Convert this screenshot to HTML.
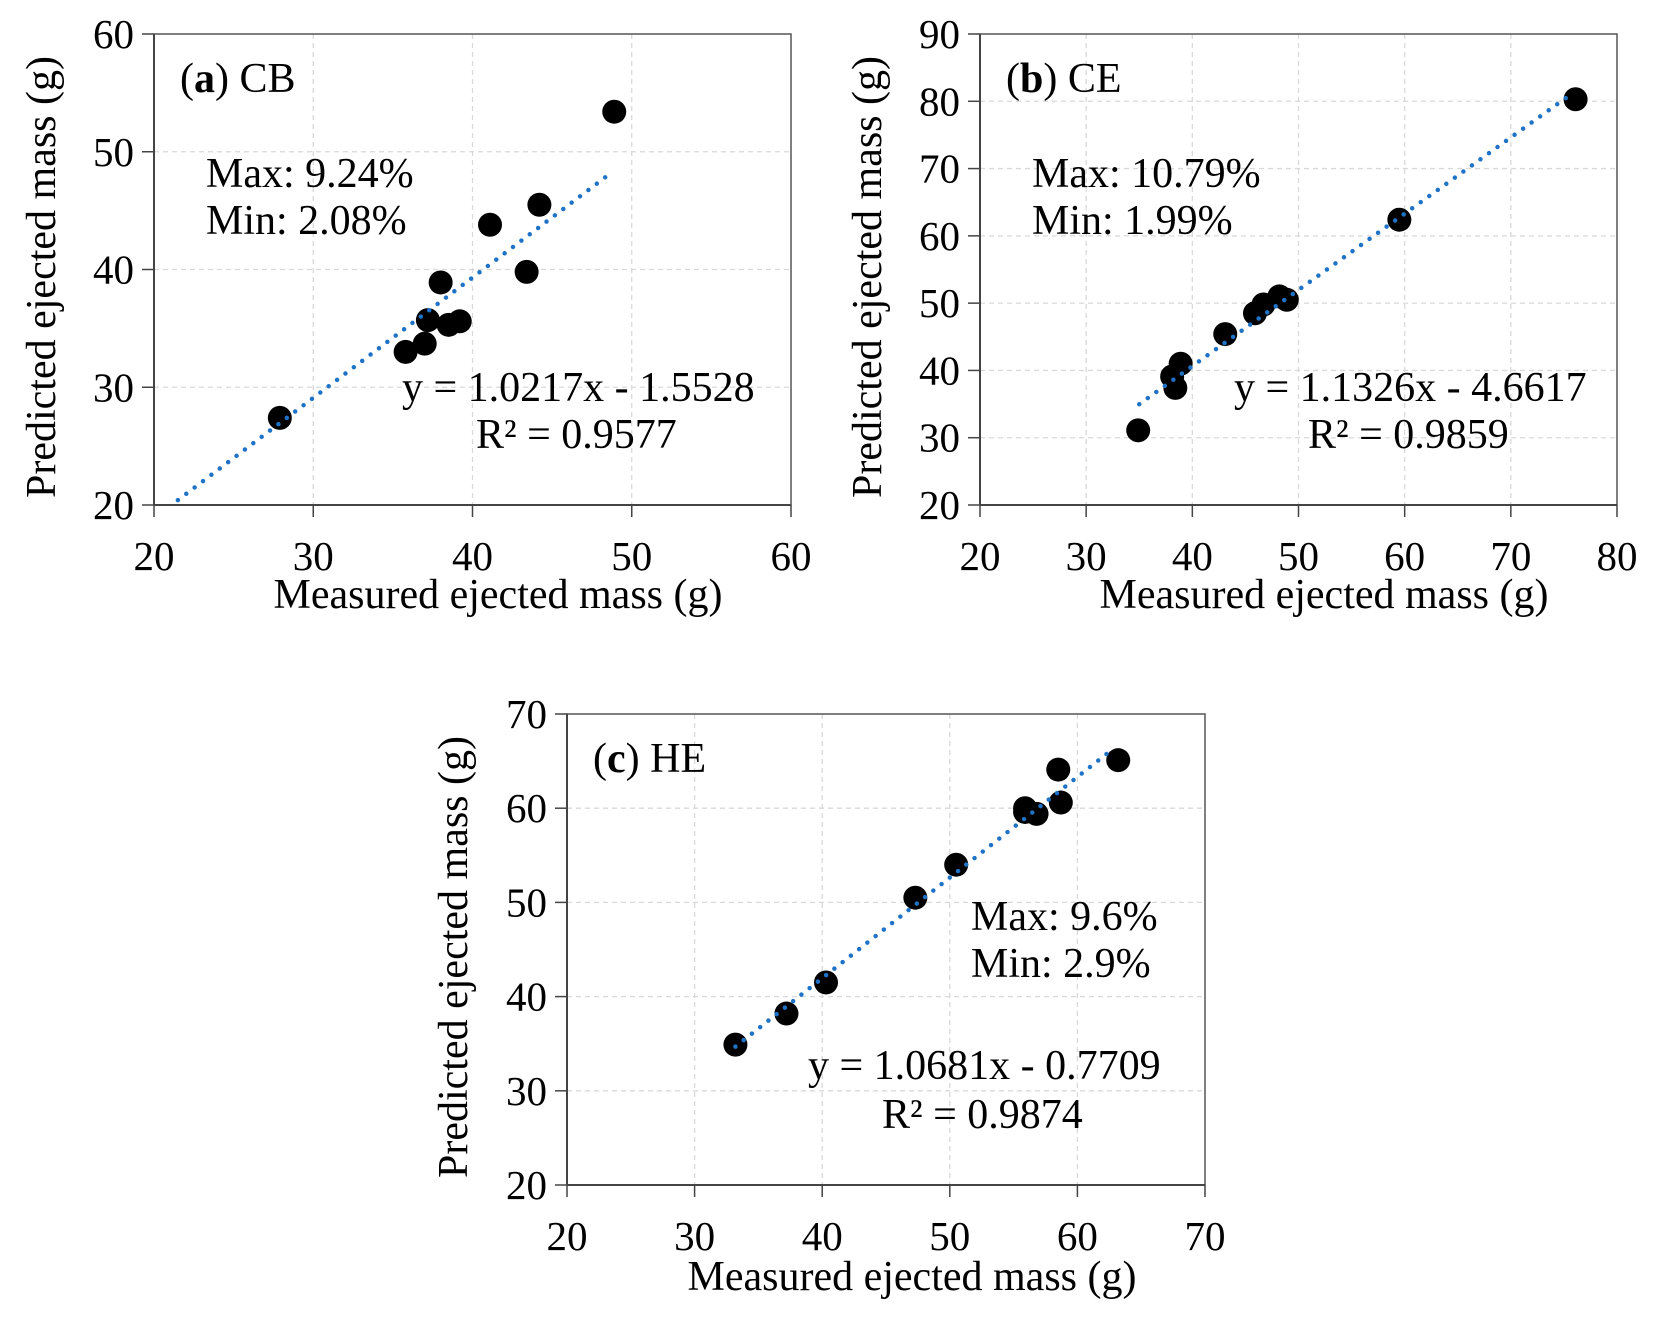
<!DOCTYPE html>
<html><head><meta charset="utf-8"><style>
html,body{margin:0;padding:0;background:#fff;}
svg{display:block;font-family:"Liberation Serif",serif;}
</style></head><body>
<svg id="fig" width="1653" height="1326" viewBox="0 0 1653 1326"></svg>
<script>
const aX=[27.9,35.8,37.0,37.2,38.5,39.2,38.0,41.1,43.4,44.2,48.9];
const aY=[27.4,33.0,33.7,35.7,35.3,35.6,38.9,43.8,39.8,45.5,53.4];
const bX=[34.9,38.4,38.1,38.9,43.1,45.9,46.7,48.2,48.9,59.5,76.1];
const bY=[31.1,37.4,39.1,41.0,45.4,48.5,49.8,51.0,50.5,62.4,80.3];
const cX=[33.2,37.2,40.3,47.3,50.5,55.9,55.9,56.8,58.7,58.5,63.2];
const cY=[34.9,38.2,41.5,50.5,54.0,60.0,59.6,59.4,60.6,64.1,65.1];
const aXTicks=[20,30,40,50,60], aYTicks=[20,30,40,50,60];
const bXTicks=[20,30,40,50,60,70,80], bYTicks=[20,30,40,50,60,70,80,90];
const cXTicks=[20,30,40,50,60,70], cYTicks=[20,30,40,50,60,70];
const aFit=[1.0217,-1.5528], bFit=[1.1326,-4.6617], cFit=[1.0681,-0.7709];
const aFitRange=[21.5,48.5], bFitRange=[35,75.5], cFitRange=[33.2,62.6];

const NS="http://www.w3.org/2000/svg";
const svg=document.getElementById('fig');
function mk(tag,attrs,parent){const e=document.createElementNS(NS,tag);for(const k in attrs)e.setAttribute(k,attrs[k]);(parent||svg).appendChild(e);return e;}
function txt(s,attrs,parent){const e=mk('text',attrs,parent);e.textContent=s;return e;}
const FS=42, TS=41;

function panel(id,L,R,T,B,xt,yt,xs,ys,fit,fr,label,letter,texts){
  const g=mk('g',{});
  
  
  const x0=xt[0],x1=xt[xt.length-1],y0=yt[0],y1=yt[yt.length-1];
  const sx=v=>L+(v-x0)/(x1-x0)*(R-L);
  const sy=v=>B-(v-y0)/(y1-y0)*(B-T);
  xt.forEach((t,i)=>{
    if(i>0&&i<xt.length-1){const gl=mk('line',{x1:sx(t),x2:sx(t),y1:T,y2:B,stroke:'#d9d9d9','stroke-width':1.3,'stroke-dasharray':'5,4'},g);
    }
    const tk=mk('line',{x1:sx(t),x2:sx(t),y1:B,y2:B+12,stroke:'#444','stroke-width':1.5},g);
    
    const tl=txt(String(t),{x:sx(t),y:B+65,'text-anchor':'middle','font-size':TS,fill:'#000'},g);
    
  });
  yt.forEach((t,i)=>{
    if(i>0&&i<yt.length-1){const gl=mk('line',{x1:L,x2:R,y1:sy(t),y2:sy(t),stroke:'#d9d9d9','stroke-width':1.3,'stroke-dasharray':'5,4'},g);
    }
    const tk=mk('line',{x1:L-12,x2:L,y1:sy(t),y2:sy(t),stroke:'#444','stroke-width':1.5},g);
    
    const tl=txt(String(t),{x:L-20,y:sy(t)+14,'text-anchor':'end','font-size':TS,fill:'#000'},g);
    
  });
  const fr2=mk('rect',{x:L,y:T,width:R-L,height:B-T,fill:'none',stroke:'#555','stroke-width':1.5},g);
  
  const ax=mk('line',{x1:L,x2:R,y1:B,y2:B,stroke:'#444','stroke-width':2},g);
  
  const ay=mk('line',{x1:L,x2:L,y1:T,y2:B,stroke:'#444','stroke-width':2},g);
  
  xs.forEach((v,i)=>{
    const c=mk('ellipse',{cx:sx(v),cy:sy(ys[i]),rx:12,ry:12,fill:'#000'},g);
    
  });
  const tl=mk('line',{x1:sx(fr[0]),y1:sy(fit[0]*fr[0]+fit[1]),x2:sx(fr[1]),y2:sy(fit[0]*fr[1]+fit[1]),stroke:'#1f73c6','stroke-width':4.5,'stroke-linecap':'round','stroke-dasharray':'0,10.5'},g);
  
  const lb=mk('text',{x:texts.lab[0],y:texts.lab[1],'font-size':FS,fill:'#000'},g);
  
  const p1=mk('tspan',{},lb);p1.textContent='(';
  const p2=mk('tspan',{'font-weight':'bold'},lb);p2.textContent=letter;
  const p3=mk('tspan',{},lb);p3.textContent=') '+label;
  const m1=txt(texts.max,{x:texts.m[0],y:texts.m[1],'font-size':FS,fill:'#000'},g);
  
  const m2=txt(texts.min,{x:texts.m[0],y:texts.m[1]+47,'font-size':FS,fill:'#000'},g);
  
  const e1=txt(texts.eq,{x:texts.e[0],y:texts.e[1],'font-size':FS,fill:'#000'},g);
  
  const e2=txt(texts.r2,{x:texts.r[0],y:texts.r[1],'font-size':FS,fill:'#000'},g);
  
  const xtit=txt('Measured ejected mass (g)',{x:texts.xt[0],y:texts.xt[1],'text-anchor':'middle','font-size':FS,fill:'#000'},g);
  
  const ytit=txt('Predicted ejected mass (g)',{x:0,y:0,'text-anchor':'middle','font-size':FS,fill:'#000',transform:'translate('+texts.yt[0]+','+texts.yt[1]+') rotate(-90)'},g);
  
}
panel('a',154,791,34,505,aXTicks,aYTicks,aX,aY,aFit,aFitRange,'CB','a',
 {lab:[180,92],m:[206,187],max:'Max: 9.24%',min:'Min: 2.08%',e:[402,401],eq:'y = 1.0217x - 1.5528',r:[476,448],r2:'R² = 0.9577',xt:[498,608],yt:[55,277]});
panel('b',980,1617,34,505,bXTicks,bYTicks,bX,bY,bFit,bFitRange,'CE','b',
 {lab:[1006,92],m:[1032,187],max:'Max: 10.79%',min:'Min: 1.99%',e:[1234,401],eq:'y = 1.1326x - 4.6617',r:[1308,448],r2:'R² = 0.9859',xt:[1324,608],yt:[881,277]});
panel('c',567,1205,714,1185,cXTicks,cYTicks,cX,cY,cFit,cFitRange,'HE','c',
 {lab:[593,772],m:[971,930],max:'Max: 9.6%',min:'Min: 2.9%',e:[808,1079],eq:'y = 1.0681x - 0.7709',r:[882,1128],r2:'R² = 0.9874',xt:[912,1290],yt:[467,957]});
</script>
</body></html>
